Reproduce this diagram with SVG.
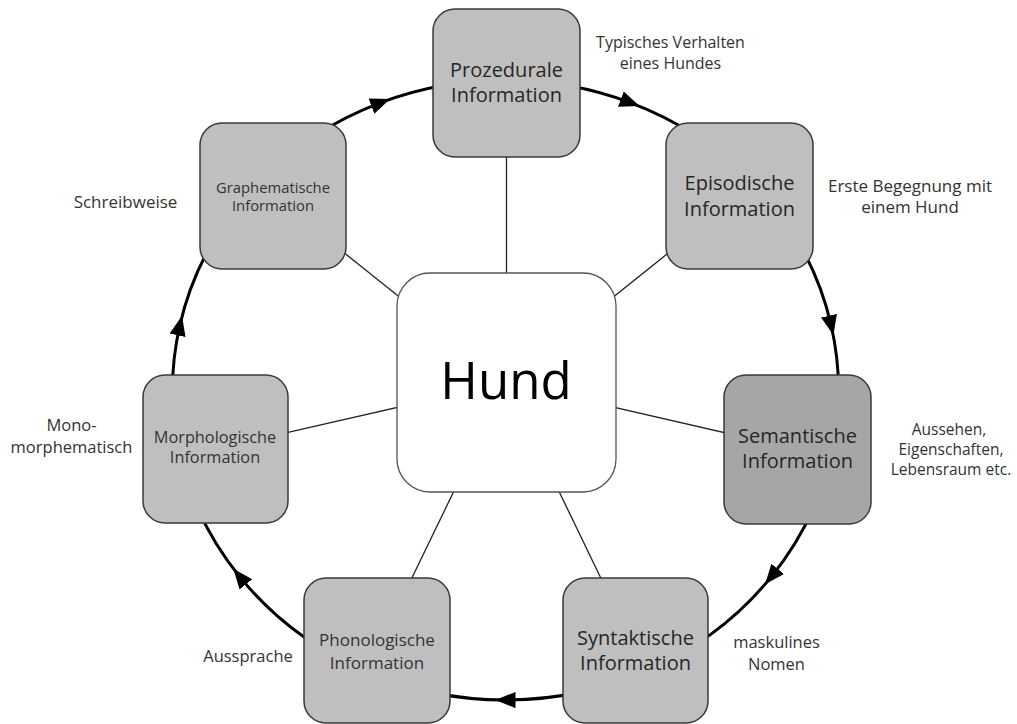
<svg xmlns="http://www.w3.org/2000/svg" width="1017" height="724" viewBox="0 0 1017 724">
<style>
.ring{fill:none;stroke:#000;stroke-width:3;marker-mid:url(#arr)}
.spoke{stroke:#222;stroke-width:1.3}
.box{fill:#bfbfbf;stroke:#3a3a3a;stroke-width:1.5}
.dark{fill:#a6a6a6}
.center{fill:#fff;stroke:#555;stroke-width:1.3}
text{font-family:"Open Sans","Liberation Sans",sans-serif;text-anchor:middle;fill:#333}
.big{font-size:20px;fill:#262626}
.lbl{font-size:16.5px}
.sm{font-size:15.5px}
</style>
<defs>
<marker id="arr" markerUnits="userSpaceOnUse" markerWidth="20" markerHeight="20" viewBox="0 -8 16 16" refX="8" refY="0" orient="auto">
<path d="M0,-6.5 L16,0 L0,6.5 z" fill="#000"/>
</marker>
</defs>
<g id="connectors">
<path class="ring" d="M258,182.6 A333,310 0 0 1 380.8,102.6 A333,310 0 0 1 505.5,80"/>
<path class="ring" d="M505.5,80 A333,310 0 0 1 630.2,102.6 A333,310 0 0 1 753,182.6"/>
<path class="ring" d="M753,182.6 A333,310 0 0 1 831.2,325.5 A333,310 0 0 1 831.2,454.4"/>
<path class="ring" d="M831.2,454.4 A333,310 0 0 1 771.4,576.6 A333,310 0 0 1 646.2,671"/>
<path class="ring" d="M646.2,671 A333,310 0 0 1 505.5,700 A333,310 0 0 1 364.8,671"/>
<path class="ring" d="M364.8,671 A333,310 0 0 1 239.6,576.6 A333,310 0 0 1 179.8,454.4"/>
<path class="ring" d="M179.8,454.4 A333,310 0 0 1 179.8,325.5 A333,310 0 0 1 258,182.6"/>
<line class="spoke" x1="506.5" y1="382.5" x2="506.5" y2="83"/>
<line class="spoke" x1="506.5" y1="382.5" x2="739.5" y2="196"/>
<line class="spoke" x1="506.5" y1="382.5" x2="797.5" y2="449.5"/>
<line class="spoke" x1="506.5" y1="382.5" x2="635.5" y2="650"/>
<line class="spoke" x1="506.5" y1="382.5" x2="377" y2="650"/>
<line class="spoke" x1="506.5" y1="382.5" x2="215.5" y2="449"/>
<line class="spoke" x1="506.5" y1="382.5" x2="273" y2="196"/>
</g>
<g id="hund">
<rect class="center" x="397" y="273" width="219" height="219" rx="33"/>
<text x="506" y="399" style="font-size:51px;fill:#000">Hund</text>
</g>
<g id="prozedurale">
<rect class="box" x="433" y="9" width="147" height="148" rx="22"/>
<text class="big" x="506.5" y="77">Prozedurale</text>
<text class="big" x="506.5" y="101.5">Information</text>
</g>
<g id="episodische">
<rect class="box" x="666" y="123" width="147" height="146" rx="22"/>
<text class="big" x="739.5" y="190">Episodische</text>
<text class="big" x="739.5" y="215.5">Information</text>
</g>
<g id="semantische">
<rect class="box dark" x="724" y="375" width="147" height="149" rx="22"/>
<text class="big" x="797.5" y="442.5">Semantische</text>
<text class="big" x="797.5" y="467.5">Information</text>
</g>
<g id="syntaktische">
<rect class="box" x="563" y="578" width="145" height="145" rx="22"/>
<text class="big" x="635.5" y="645">Syntaktische</text>
<text class="big" x="635.5" y="670">Information</text>
</g>
<g id="phonologische">
<rect class="box" x="304" y="578" width="146" height="145" rx="22"/>
<text x="377" y="646" style="font-size:17px">Phonologische</text>
<text x="377" y="669" style="font-size:17px">Information</text>
</g>
<g id="morphologische">
<rect class="box" x="143" y="375" width="145" height="148" rx="22"/>
<text x="215" y="443" style="font-size:16.3px">Morphologische</text>
<text x="215" y="463" style="font-size:16.3px">Information</text>
</g>
<g id="graphematische">
<rect class="box" x="200" y="123" width="146" height="146" rx="22"/>
<text x="273" y="192.5" style="font-size:14.8px">Graphematische</text>
<text x="273" y="211" style="font-size:14.8px">Information</text>
</g>
<g id="labels">
<text class="lbl" x="670.5" y="48" style="font-size:16px">Typisches Verhalten</text>
<text class="lbl" x="670.5" y="68.5" style="font-size:16px">eines Hundes</text>
<text class="lbl" x="910" y="192" style="font-size:17px">Erste Begegnung mit</text>
<text class="lbl" x="910" y="213" style="font-size:17px">einem Hund</text>
<text class="lbl" x="125.5" y="208" style="font-size:17px">Schreibweise</text>
<text class="lbl" x="71.5" y="431">Mono-</text>
<text class="lbl" x="71.5" y="453">morphematisch</text>
<text class="sm" x="949" y="435">Aussehen,</text>
<text class="sm" x="951" y="455">Eigenschaften,</text>
<text class="sm" x="951" y="475">Lebensraum etc.</text>
<text class="lbl" x="776.5" y="648">maskulines</text>
<text class="lbl" x="776.5" y="670">Nomen</text>
<text class="lbl" x="248" y="662">Aussprache</text>
</g>
</svg>
